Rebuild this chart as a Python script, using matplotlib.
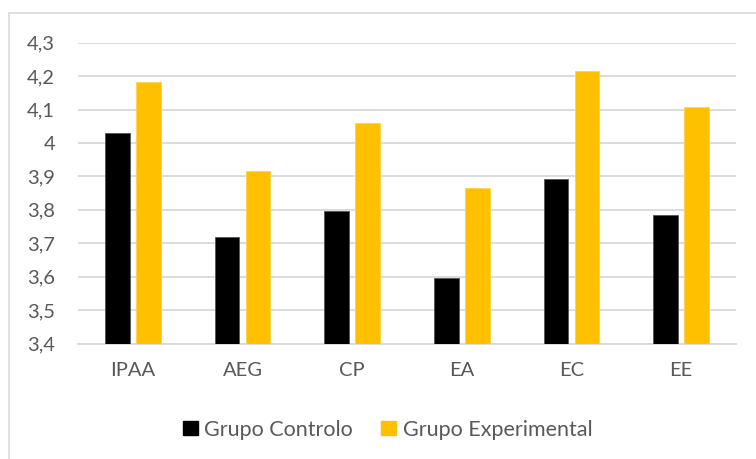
import numpy as np
import matplotlib
matplotlib.use("Agg")
import matplotlib.pyplot as plt
from matplotlib.patches import Patch, Rectangle

categories = ["IPAA", "AEG", "CP", "EA", "EC", "EE"]
controlo = [4.03, 3.718, 3.795, 3.597, 3.891, 3.785]
experimental = [4.182, 3.915, 4.06, 3.864, 4.215, 4.108]
yticks = [3.4, 3.5, 3.6, 3.7, 3.8, 3.9, 4.0, 4.1, 4.2, 4.3]
ytick_labels = ["3,4", "3,5", "3,6", "3,7", "3,8", "3,9", "4", "4,1", "4,2", "4,3"]

plt.rcParams['font.family'] = ['Lato', 'DejaVu Sans']
txt_col = "#595959"
grid_col = "#d9d9d9"
black = "#000000"
gold = "#ffc000"
fs = 14.5

fig = plt.figure(figsize=(7.56, 4.59), dpi=100)
# chart-area frame
fig.patches.append(Rectangle((9 / 756, -0.05), 1.0, 1 - 13 / 459 + 0.05,
                             transform=fig.transFigure, fill=False,
                             edgecolor=grid_col, linewidth=1.2))

ax = fig.add_axes([78 / 756, 115.5 / 459, 658 / 756, 300.8 / 459])
x = np.arange(len(categories))
w = 0.225
ax.bar(x - 0.142, np.array(controlo) - 3.4, w, bottom=3.4, color=black,
       edgecolor="#555555", linewidth=0.6, zorder=3)
ax.bar(x + 0.142, np.array(experimental) - 3.4, w, bottom=3.4, color=gold,
       edgecolor="#ffd34d", linewidth=0.6, zorder=3)

ax.set_xlim(-0.5, len(categories) - 0.5)
ax.set_ylim(3.4, 4.3)
ax.set_yticks(yticks)
ax.set_yticklabels(ytick_labels)
ax.set_xticks(x)
ax.set_xticklabels(categories)
ax.tick_params(axis="both", length=0, labelsize=fs, colors=txt_col)
ax.tick_params(axis="y", pad=16.5)
ax.tick_params(axis="x", pad=13)
ax.grid(axis="y", color=grid_col, linewidth=1.3, zorder=0)
for s in ["left", "right", "top"]:
    ax.spines[s].set_visible(False)
ax.spines["bottom"].set_color(grid_col)
ax.spines["bottom"].set_linewidth(1.3)

handles = [Patch(facecolor=black, edgecolor=black), Patch(facecolor=gold, edgecolor=gold)]
fig.legend(handles, ["Grupo Controlo", "Grupo Experimental"], loc="center",
           bbox_to_anchor=(387.5 / 756, 1 - 429.5 / 459), ncol=2, frameon=False,
           fontsize=15.5, labelcolor=txt_col, handlelength=0.7, handleheight=0.68,
           handletextpad=0.3, columnspacing=1.3)

fig.savefig("out.png", dpi=100)
